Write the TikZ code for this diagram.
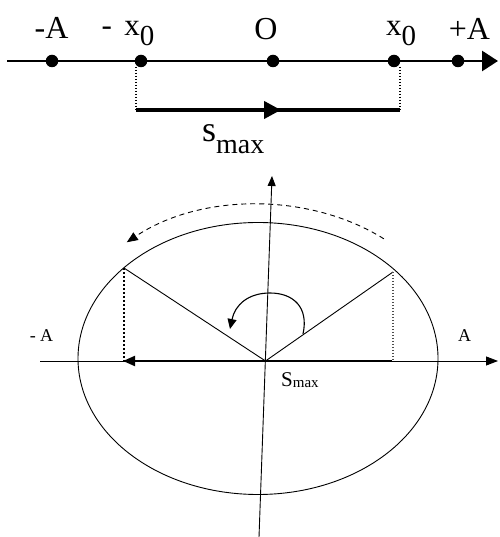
\documentclass[tikz,border=0pt]{standalone}
\usepackage{fontspec}
\setmainfont{Liberation Serif}
\usetikzlibrary{arrows.meta}
\begin{document}
\begin{tikzpicture}[x=1pt,y=1pt,
  dot/.style={circle,fill=black,inner sep=0pt,minimum size=12.5pt},
  biglbl/.style={inner sep=0pt,anchor=base,font=\fontsize{32}{34}\selectfont},
  xlbl/.style={inner sep=0pt,anchor=base,font=\fontsize{31}{33}\selectfont},
  smalllbl/.style={inner sep=0pt,anchor=base,font=\fontsize{18}{20}\selectfont},
  fine/.style={line width=0.9pt},
  dotline/.style={line width=1.1pt,dash pattern=on 1.5pt off 1.5pt},
  bigtip/.style={-{Triangle[length=16pt,width=20pt]}},
  smalltip/.style={-{Triangle[length=11pt,width=9pt]}}]
\useasboundingbox (0,0) rectangle (499,537);

% ---------- top number line ----------
\coordinate (axL) at (7,476);
\coordinate (axR) at (498,476);
\draw[line width=2.8pt,bigtip] (axL) -- (axR);

\node[dot] (dA)  at (52,476) {};
\node[dot] (dmx) at (141,476) {};
\node[dot] (dO)  at (273,476) {};
\node[dot] (dx)  at (394,476) {};
\node[dot] (dpA) at (458,476) {};

\node[biglbl] (lA)  at (51.5,498) {-A};
\node[xlbl] (lmx) at (128,501) {-\hspace{0.4em}x\raisebox{-10pt}{\fontsize{29}{31}\selectfont 0}};
\node[biglbl] (lO)  at (266,497) {O};
\node[xlbl] (lx)  at (401,501) {x\raisebox{-10pt}{\fontsize{29}{31}\selectfont 0}};
\node[biglbl] (lpA) at (469.5,497) {+A};

\coordinate (d1t) at (136,470);
\coordinate (d1b) at (136,427);
\coordinate (d2t) at (400,470);
\coordinate (d2b) at (400,427);
\draw[dotline] (d1t) -- (d1b);
\draw[dotline] (d2t) -- (d2b);

\coordinate (sM) at (281,427);
\draw[line width=4pt] (d1b) -- (d2b);
\draw[line width=4pt,-{Triangle[length=17pt,width=17pt]}] (d1b) -- (sM);

\node[inner sep=0pt,anchor=base west,font=\fontsize{36}{38}\selectfont] (smax) at (202,395)
  {s\raisebox{-12pt}{\fontsize{28}{30}\selectfont max}};

% ---------- bottom circle diagram ----------
\coordinate (vB) at (259,0);
\coordinate (vT) at (272,361);
\draw[fine,-{Triangle[length=10pt,width=8pt]}] (vB) -- (vT);

\coordinate (hL) at (40,176);
\coordinate (hR) at (498,176);
\draw[fine,-{Triangle[length=12pt,width=9pt]}] (hL) -- (hR);

\draw[fine] (258,178.5) ellipse [x radius=180, y radius=136];

\coordinate (O2) at (265.5,176);
\coordinate (sR2) at (392,176);
\coordinate (sL2) at (123,176);
\draw[line width=2pt,-{Triangle[length=12pt,width=10pt]}] (sR2) -- (sL2);

\coordinate (P1) at (124,269);
\coordinate (P2) at (393,265);
\draw[fine] (O2) -- (P1);
\draw[fine] (O2) -- (P2);
\draw[line width=1.1pt,dash pattern=on 2.5pt off 1.5pt] (P1) -- (P1 |- O2);
\draw[dotline,draw=black!70] (P2) -- (P2 |- O2);

\draw[fine,dash pattern=on 5pt off 4pt,smalltip]
  ([shift={(51:200 and 154)}]258,178.5) arc[start angle=51,end angle=131,x radius=200,y radius=154];

\coordinate (c1) at (303,203);
\coordinate (c2) at (270,244);
\coordinate (c3) at (230,208);
\draw[line width=1.1pt,-{Triangle[length=10pt,width=9pt]}]
  (c1) .. controls (309,230) and (293,244) .. (c2) .. controls (248,244) and (235,232) .. (c3);

\node[smalllbl] (bmA) at (41.5,195) {- A};
\node[smalllbl] (bA)  at (464.5,195) {A};
\node[inner sep=0pt,anchor=base west] (Smax) at (281,150)
  {\fontsize{21}{24}\selectfont S\raisebox{-1pt}{\fontsize{15}{17}\selectfont max}};
\end{tikzpicture}
\end{document}
